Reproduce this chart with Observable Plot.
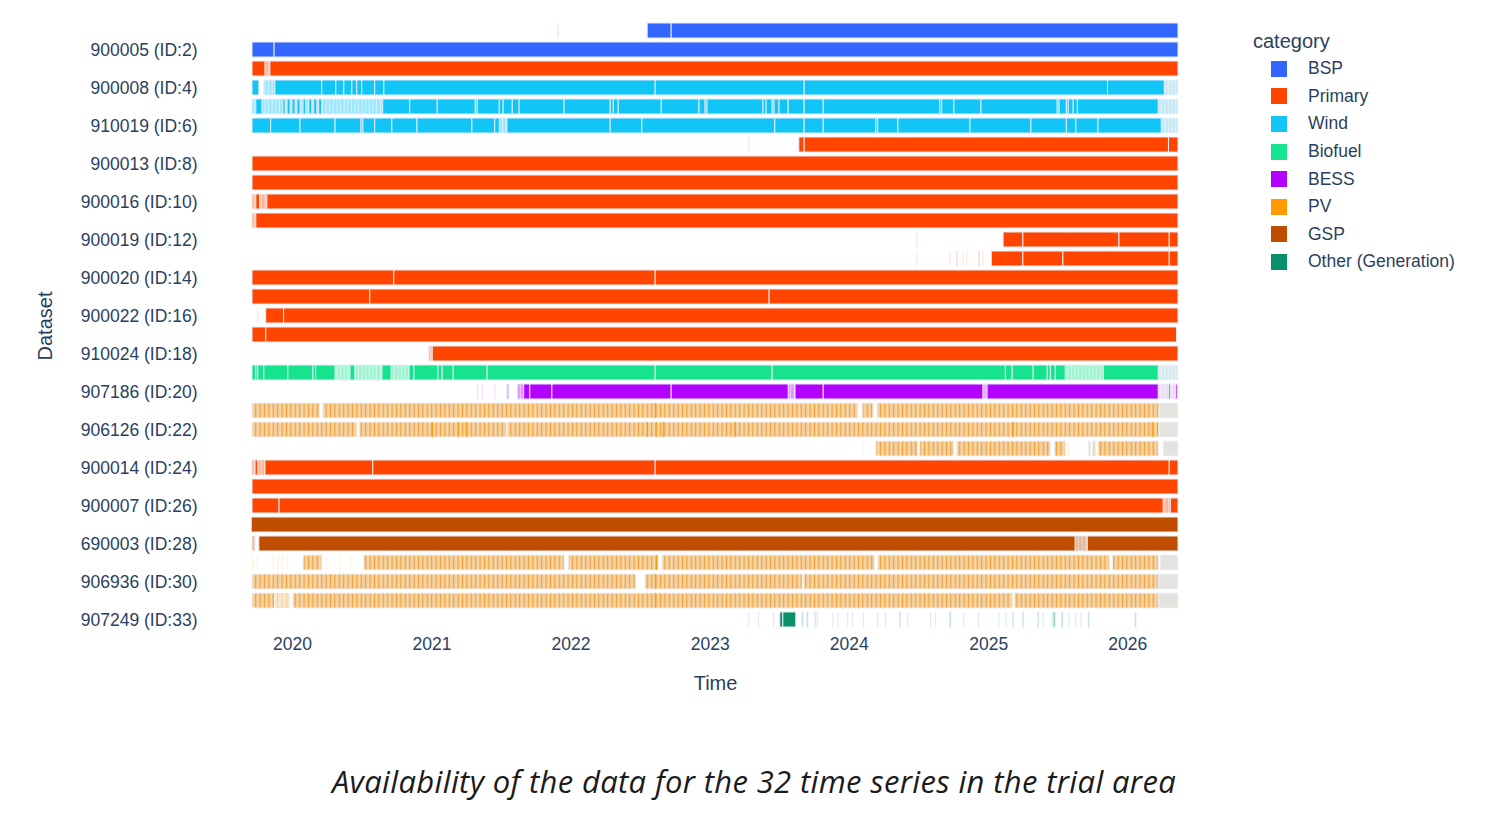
<!DOCTYPE html>
<html>
<head>
<meta charset="utf-8">
<script src="https://cdn.jsdelivr.net/npm/d3@7"></script>
<script src="https://cdn.jsdelivr.net/npm/@observablehq/plot@0.6"></script>
<style>
  body { margin: 0; background: #fff; }
  #wrap { position: relative; width: 1508px; height: 815px; font-family: "Liberation Sans", Arial, sans-serif; color: #2a3f5f; }
  #chart { position: absolute; left: 0; top: 0; }
  #legend { position: absolute; left: 1253px; top: 27px; }
  .lg-title { font-size: 20px; height: 28px; line-height: 28px; }
  .lg-item { height: 27.6px; display: flex; align-items: center; font-size: 17.5px; }
  .lg-sw { width: 16px; height: 16px; margin-left: 18px; margin-right: 21px; }
  #caption { position: absolute; left: 0; width: 1508px; top: 760px; text-align: center; line-height: 42px;
             font: italic 31px "Open Sans", Lato, sans-serif; letter-spacing: 0.35px; color: #1b1b1b; }
</style>
</head>
<body>
<svg width="0" height="0" style="position:absolute">
  <defs>
    <!-- daily PV records: pale fill broken by thin day boundaries -->
    <pattern id="pv-hatch" patternUnits="userSpaceOnUse" width="4.4" height="40">
      <rect width="4.4" height="40" fill="#f3c88e"/>
      <rect x="0" width="0.9" height="40" fill="#efa33a"/>
      <rect x="2.4" width="0.8" height="40" fill="#f9e1c0"/>
    </pattern>
    <!-- sparse records: light gaps between isolated days -->
    <pattern id="gaps" patternUnits="userSpaceOnUse" width="3.6" height="40">
      <rect x="1.6" width="1" height="40" fill="#ffffff" fill-opacity="0.55"/>
    </pattern>
  </defs>
</svg>
<div id="wrap">
  <div id="chart"></div>
  <div id="legend"></div>
  <div id="caption">Availability of the data for the 32 time series in the trial area</div>
</div>
<script>
// Categories and their colours
const categories = ["BSP", "Primary", "Wind", "Biofuel", "BESS", "PV", "GSP", "Other (Generation)"];
const categoryColors = ["#3366ff", "#ff4500", "#12c5f7", "#17e38e", "#b300ff", "#ff9900", "#bf4d00", "#0a8f6b"];

// Datasets (rows, top to bottom) and the category of each
const datasetIds = [1, 2, 3, 4, 5, 6, 7, 8, 9, 10, 11, 12, 13, 14, 15, 16, 17, 18, 19, 20, 21, 22, 23, 24, 25, 26, 27, 28, 29, 30, 31, 33];
const datasetCategory = ["BSP", "BSP", "Primary", "Wind", "Wind", "Wind", "Primary", "Primary", "Primary", "Primary",
  "Primary", "Primary", "Primary", "Primary", "Primary", "Primary", "Primary", "Primary", "Biofuel", "BESS",
  "PV", "PV", "PV", "Primary", "Primary", "Primary", "GSP", "GSP", "PV", "PV", "PV", "Other (Generation)"];

// Axis tick labels
const yTickLabels = [
  [2, "900005 (ID:2)"], [4, "900008 (ID:4)"], [6, "910019 (ID:6)"], [8, "900013 (ID:8)"],
  [10, "900016 (ID:10)"], [12, "900019 (ID:12)"], [14, "900020 (ID:14)"], [16, "900022 (ID:16)"],
  [18, "910024 (ID:18)"], [20, "907186 (ID:20)"], [22, "906126 (ID:22)"], [24, "900014 (ID:24)"],
  [26, "900007 (ID:26)"], [28, "690003 (ID:28)"], [30, "906936 (ID:30)"], [33, "907249 (ID:33)"]
];
const yearTicks = ["2020-01-01", "2021-01-01", "2022-01-01", "2023-01-01", "2024-01-01", "2025-01-01", "2026-01-01"];
const timeRange = ["2019-09-18", "2026-05-14"];

// Continuous runs of records: [dataset, [start, break, break, ..., end]]
const runs = [
  [1, ["2022-07-21", "2022-09-22", "2026-05-14"]],
  [2, ["2019-09-18", "2019-11-15", "2026-05-14"]],
  [3, ["2019-09-18", "2019-10-22"]], [3, ["2019-11-04", "2026-05-14"]],
  [4, ["2019-09-18", "2019-10-06"]],
  [4, ["2019-11-17", "2020-03-19", "2020-04-25", "2020-05-16", "2020-06-06", "2020-06-19", "2020-07-02", "2020-08-05",
       "2020-08-29", "2022-08-11", "2023-09-06", "2025-11-10", "2026-04-08"]],
  [5, ["2019-09-28", "2019-10-14"]], [5, ["2019-12-08", "2019-12-14"]], [5, ["2019-12-19", "2019-12-27"]],
  [5, ["2020-01-01", "2020-01-09"]], [5, ["2020-01-14", "2020-01-22"]], [5, ["2020-01-30", "2020-02-06"]],
  [5, ["2020-02-14", "2020-02-22"]], [5, ["2020-02-27", "2020-03-06"]], [5, ["2020-03-11", "2020-03-19"]],
  [5, ["2020-08-26", "2020-11-05", "2021-01-16", "2021-04-26", "2021-05-01", "2021-06-28", "2021-07-08", "2021-08-01",
       "2021-08-19", "2021-12-15", "2022-04-15", "2022-04-23", "2022-05-06", "2022-08-27", "2022-12-04", "2022-12-20",
       "2022-12-25", "2023-05-21", "2023-05-29", "2023-06-14", "2023-06-19", "2023-07-02", "2023-07-26", "2023-09-06",
       "2023-10-26", "2024-08-27", "2024-09-01", "2024-10-03", "2024-12-13", "2025-07-01", "2025-07-06", "2025-07-25",
       "2025-07-30", "2025-08-12", "2025-08-23", "2026-03-23"]],
  [6, ["2019-09-18", "2019-11-06", "2020-01-22", "2020-04-23", "2020-06-30", "2020-07-05", "2020-08-05", "2020-09-19",
       "2020-11-24", "2021-04-17", "2021-06-16", "2021-06-28"]],
  [6, ["2021-07-18", "2022-04-15", "2022-07-07", "2023-06-21", "2023-09-06", "2023-10-26", "2024-03-12", "2024-03-17",
       "2024-05-09", "2024-11-14", "2025-04-23", "2025-07-25", "2025-08-19", "2025-10-16", "2026-03-31"]],
  [7, ["2023-08-23", "2023-09-06", "2026-04-19", "2026-05-14"]],
  [8, ["2019-09-18", "2026-05-14"]],
  [9, ["2019-09-18", "2026-05-14"]],
  [10, ["2019-09-28", "2019-10-08"]], [10, ["2019-10-27", "2026-05-14"]],
  [11, ["2019-09-28", "2026-05-14"]],
  [12, ["2025-02-09", "2025-04-02", "2025-12-10", "2026-04-21", "2026-05-14"]],
  [13, ["2025-01-09", "2025-04-02", "2025-07-16", "2026-04-21", "2026-05-14"]],
  [14, ["2019-09-18", "2020-09-24", "2022-08-11", "2026-05-14"]],
  [15, ["2019-09-18", "2020-07-23", "2023-06-06", "2026-05-14"]],
  [16, ["2019-10-24", "2019-12-10", "2026-05-14"]],
  [17, ["2019-09-18", "2019-10-24", "2026-05-10"]],
  [18, ["2021-01-03", "2026-05-14"]],
  [19, ["2019-09-18", "2019-09-28", "2019-10-03", "2019-10-19", "2019-12-21", "2020-02-25", "2020-03-03", "2020-04-23"]],
  [19, ["2020-06-01", "2020-06-14"]], [19, ["2020-08-24", "2020-09-17"]],
  [19, ["2020-11-03", "2020-11-16", "2021-01-18", "2021-01-29", "2021-02-27", "2021-05-27", "2022-08-11", "2023-06-14",
        "2025-02-15", "2025-03-05", "2025-04-29", "2025-06-05", "2025-06-13", "2025-06-26", "2025-07-22"]],
  [19, ["2025-10-30", "2026-03-23"]],
  [20, ["2021-08-31", "2021-09-16", "2021-11-13", "2022-09-22", "2023-07-26"]],
  [20, ["2023-08-13", "2023-10-26", "2024-12-18"]], [20, ["2024-12-29", "2026-03-23"]],
  [20, ["2026-04-19", "2026-04-23"]], [20, ["2026-05-08", "2026-05-12"]],
  [21, ["2019-09-18", "2020-03-14"]], [21, ["2020-03-22", "2024-01-25"]], [21, ["2024-02-05", "2024-03-05"]],
  [21, ["2024-03-15", "2026-03-25"]],
  [22, ["2019-09-18", "2020-06-19"]], [22, ["2020-06-25", "2021-07-17"]], [22, ["2021-07-19", "2026-03-25"]],
  [23, ["2024-03-12", "2024-06-30"]], [23, ["2024-07-05", "2024-10-03"]], [23, ["2024-10-10", "2025-06-13"]],
  [23, ["2025-06-24", "2025-07-22"]], [23, ["2025-09-21", "2025-09-26"]], [23, ["2025-10-02", "2025-10-09"]],
  [23, ["2025-10-16", "2026-03-23"]],
  [24, ["2019-09-26", "2019-10-03"]], [24, ["2019-10-22", "2020-07-31", "2022-08-11", "2026-04-21", "2026-05-14"]],
  [25, ["2019-09-18", "2026-05-14"]],
  [26, ["2019-09-18", "2019-11-28", "2026-04-05"]], [26, ["2026-04-24", "2026-05-14"]],
  [27, ["2019-09-16", "2026-05-14"]],
  [28, ["2019-10-06", "2025-08-17"]], [28, ["2025-09-18", "2026-05-14"]],
  [29, ["2020-01-30", "2020-03-19"]], [29, ["2020-07-07", "2021-12-15"]], [29, ["2021-12-26", "2022-08-19"]],
  [29, ["2022-08-29", "2024-03-09"]], [29, ["2024-03-17", "2025-11-15"]], [29, ["2025-11-23", "2026-03-23"]],
  [30, ["2019-09-18", "2022-06-21"]], [30, ["2022-07-15", "2023-09-01"]], [30, ["2023-09-05", "2026-03-23"]],
  [31, ["2019-09-18", "2019-11-16"]], [31, ["2020-01-03", "2025-03-05"]], [31, ["2025-03-10", "2026-03-23"]],
  [33, ["2023-07-04", "2023-07-12", "2023-08-15"]]
];

// Stretches with only part of the records present: [dataset, start, end]
const partial = [
  [3, "2019-10-22", "2019-11-04"],
  [4, "2019-10-19", "2019-11-17"], [4, "2026-04-08", "2026-04-12"],
  [5, "2019-09-18", "2020-08-26"],
  [6, "2021-06-28", "2021-07-18"],
  [10, "2019-09-18", "2019-09-28"], [10, "2019-10-08", "2019-10-27"],
  [11, "2019-09-18", "2019-09-28"],
  [13, "2024-10-09", "2024-10-12"], [13, "2024-12-06", "2024-12-09"],
  [18, "2020-12-25", "2021-01-03"],
  [19, "2020-04-23", "2020-06-01"], [19, "2020-06-14", "2020-08-24"], [19, "2020-09-17", "2020-11-03"],
  [19, "2025-07-22", "2025-10-30"],
  [20, "2021-07-18", "2021-07-23"], [20, "2021-08-14", "2021-08-31"], [20, "2023-07-26", "2023-08-13"],
  [20, "2024-12-18", "2024-12-29"],
  [24, "2019-09-18", "2019-10-22"],
  [26, "2026-04-05", "2026-04-24"],
  [28, "2019-09-18", "2019-09-26"], [28, "2025-08-17", "2025-09-18"],
  [31, "2019-11-16", "2019-12-27"],
  [33, "2023-08-31", "2023-09-03"], [33, "2023-09-13", "2023-09-16"], [33, "2023-10-04", "2023-10-07"],
  [33, "2023-10-10", "2023-10-12"], [33, "2024-05-13", "2024-05-16"], [33, "2024-09-22", "2024-09-25"],
  [33, "2025-03-06", "2025-03-09"], [33, "2025-04-01", "2025-04-04"], [33, "2025-05-11", "2025-05-14"],
  [33, "2025-06-18", "2025-06-26"], [33, "2025-07-13", "2025-07-16"], [33, "2025-09-20", "2025-09-23"],
  [33, "2026-01-21", "2026-01-24"]
];

// Isolated days with a few records: [dataset, start, end]
const traces = [
  [1, "2021-11-28", "2021-12-01"],
  [7, "2023-04-12", "2023-04-15"],
  [12, "2024-06-26", "2024-06-29"],
  [13, "2024-06-26", "2024-06-29"], [13, "2024-09-21", "2024-09-24"], [13, "2024-10-25", "2024-10-28"],
  [13, "2024-11-04", "2024-11-07"], [13, "2024-12-16", "2024-12-19"],
  [16, "2019-10-02", "2019-10-05"],
  [20, "2021-04-30", "2021-05-03"], [20, "2021-05-13", "2021-05-16"], [20, "2021-06-15", "2021-06-18"],
  [23, "2024-02-06", "2024-02-09"], [23, "2025-07-29", "2025-08-01"],
  [29, "2019-09-18", "2019-09-21"], [29, "2019-09-30", "2019-10-03"], [29, "2019-11-11", "2019-11-14"],
  [29, "2019-11-24", "2019-11-27"], [29, "2019-12-05", "2019-12-08"], [29, "2019-12-19", "2019-12-22"],
  [29, "2020-03-29", "2020-04-01"], [29, "2020-05-05", "2020-05-08"], [29, "2020-06-01", "2020-06-04"],
  [33, "2023-04-12", "2023-04-15"], [33, "2023-05-08", "2023-05-11"], [33, "2023-06-16", "2023-06-19"],
  [33, "2023-11-19", "2023-11-22"], [33, "2023-12-02", "2023-12-05"], [33, "2023-12-28", "2023-12-31"],
  [33, "2024-01-09", "2024-01-12"], [33, "2024-02-07", "2024-02-10"], [33, "2024-03-15", "2024-03-18"],
  [33, "2024-04-05", "2024-04-08"], [33, "2024-06-02", "2024-06-05"], [33, "2024-08-01", "2024-08-04"],
  [33, "2024-08-14", "2024-08-17"], [33, "2024-10-27", "2024-10-30"], [33, "2024-12-05", "2024-12-08"],
  [33, "2025-01-27", "2025-01-30"], [33, "2025-02-15", "2025-02-18"], [33, "2025-05-23", "2025-05-26"],
  [33, "2025-07-30", "2025-08-02"], [33, "2025-08-17", "2025-08-20"], [33, "2025-08-31", "2025-09-03"]
];

// Days where two PV records overlap: [dataset, start, end]
const pvOverlaps = [
  [21, "2022-08-10", "2022-08-13"],
  [22, "2021-01-02", "2021-01-05"], [22, "2021-03-11", "2021-03-14"], [22, "2021-04-01", "2021-04-04"],
  [22, "2022-07-20", "2022-07-23"], [22, "2022-08-12", "2022-08-15"], [22, "2022-08-31", "2022-09-03"],
  [22, "2023-03-07", "2023-03-10"], [22, "2025-03-06", "2025-03-09"], [22, "2026-03-06", "2026-03-09"],
  [29, "2022-08-13", "2022-08-17"],
  [30, "2022-08-10", "2022-08-13"],
  [31, "2022-08-10", "2022-08-13"]
];

// Provisional (not yet validated) period at the end of a series: [dataset, start, end]
const provisional = [
  [4, "2026-04-08", "2026-05-14"], [5, "2026-03-23", "2026-05-14"], [6, "2026-03-31", "2026-05-14"],
  [19, "2026-03-23", "2026-05-14"], [20, "2026-03-23", "2026-05-14"],
  [21, "2026-03-25", "2026-05-14"], [22, "2026-03-25", "2026-05-14"], [23, "2026-04-05", "2026-05-14"],
  [29, "2026-03-28", "2026-05-14"], [30, "2026-03-23", "2026-05-14"], [31, "2026-03-23", "2026-05-14"]
];

// ---- build mark data ----
const parse = d3.utcParse("%Y-%m-%d");
const catOf = new Map(datasetIds.map((id, i) => [id, datasetCategory[i]]));
const colorOf = new Map(categories.map((c, i) => [c, categoryColors[i]]));
const span = (id, a, b) => ({id, cat: catOf.get(id), start: parse(a), end: parse(b)});
const solidSpans = runs.flatMap(([id, dates]) => d3.pairs(dates, (a, b) => span(id, a, b)));
const partialSpans = partial.map(([id, a, b]) => span(id, a, b));
const traceSpans = traces.map(([id, a, b]) => span(id, a, b));
const overlapSpans = pvOverlaps.map(([id, a, b]) => span(id, a, b));
const provisionalSpans = provisional.map(([id, a, b]) => span(id, a, b));
const isPV = d => d.cat === "PV";
const notPV = d => d.cat !== "PV";
const labelOf = new Map(yTickLabels);

// pale tint of each category for the provisional period
const provisionalTint = {Wind: "#c4e8f5", Biofuel: "#d7e9ef", BESS: "#e9def6", PV: "#e5e3df"};

const bar = (data, opts) => Plot.barX(data, {x1: "start", x2: "end", y: "id", ...opts});
const outline = "#e5ecf6";

const chart = Plot.plot({
  width: 1188,
  height: 720,
  marginLeft: 252,
  marginRight: 10,
  marginTop: 20.5,
  marginBottom: 89.5,
  style: {fontFamily: "'Liberation Sans', Arial, sans-serif", fontSize: "17.5px", color: "#2a3f5f", background: "#fff"},
  x: {type: "utc", domain: timeRange.map(parse)},
  y: {type: "band", domain: datasetIds, paddingInner: 0.2, paddingOuter: 0.1},
  color: {domain: categories, range: categoryColors},
  marks: [
    ...Object.entries(provisionalTint).map(([cat, tint]) =>
      bar(provisionalSpans.filter(d => d.cat === cat), {fill: tint, stroke: "#f0f3f8", strokeWidth: 0.8})),
    bar(provisionalSpans.filter(d => d.cat !== "PV"), {fill: "url(#gaps)"}),
    bar(traceSpans, {fill: "cat", fillOpacity: 0.14}),
    bar(partialSpans.filter(notPV), {fill: "cat", fillOpacity: 0.42, stroke: outline, strokeWidth: 0.8}),
    bar(partialSpans.filter(notPV), {fill: "url(#gaps)"}),
    bar(partialSpans.filter(isPV), {fill: "url(#pv-hatch)", fillOpacity: 0.5}),
    bar(solidSpans.filter(notPV), {fill: "cat", stroke: outline, strokeWidth: 1}),
    bar(solidSpans.filter(isPV), {fill: "url(#pv-hatch)", stroke: "#eef1f5", strokeWidth: 1}),
    bar(overlapSpans, {fill: colorOf.get("PV"), fillOpacity: 0.85}),
    Plot.axisY({tickSize: 0, tickPadding: 55, tickFormat: id => labelOf.get(id) ?? "", label: null}),
    Plot.axisX({ticks: yearTicks.map(parse), tickFormat: d3.utcFormat("%Y"), tickSize: 0, tickPadding: 7, label: null}),
    Plot.text(["Time"], {frameAnchor: "bottom", dy: 59, fontSize: 20, fill: "#2a3f5f"}),
    Plot.text(["Dataset"], {frameAnchor: "left", dx: -207, rotate: -90, textAnchor: "middle", fontSize: 20, fill: "#2a3f5f"})
  ]
});
document.getElementById("chart").append(chart);

// ---- legend ----
const legend = d3.select("#legend");
legend.append("div").attr("class", "lg-title").text("category");
categories.forEach((c, i) => {
  const item = legend.append("div").attr("class", "lg-item");
  item.append("span").attr("class", "lg-sw").style("background", categoryColors[i]);
  item.append("span").text(c);
});
</script>
</body>
</html>
